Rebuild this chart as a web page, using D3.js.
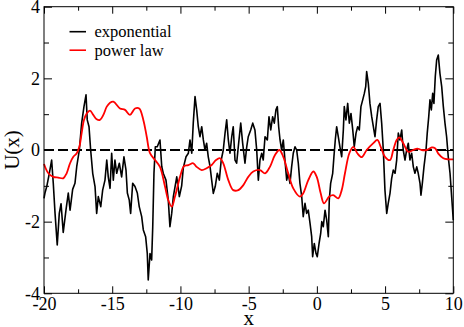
<!DOCTYPE html>
<html>
<head>
<meta charset="utf-8">
<script src="https://cdn.jsdelivr.net/npm/d3@7"></script>
<style>
  body { margin: 0; background: #fff; }
  svg text { font-family: "Liberation Serif", "Times New Roman", Times, "DejaVu Serif", serif; fill: #000; }
</style>
</head>
<body>
<svg id="chart"></svg>
<script>
var width = 464,
    height = 327;
var margin = {top: 6.7, right: 10.7, bottom: 33.7, left: 44};
var serif = "'Liberation Serif', 'Times New Roman', Times, 'DejaVu Serif', serif";

// exponential correlated potential (black)
var expX = [-20, -19.93, -19.80, -19.61, -19.44, -19.32, -19.19, -19.03, -18.88, -18.75, -18.59, -18.39, -18.22, -18.09, -17.90, -17.73, -17.60, -17.41, -17.24, -17.07, -16.92, -16.83, -16.70, -16.58, -16.43, -16.26, -16.14, -16.02, -15.84, -15.70, -15.53, -15.40, -15.29, -15.16, -15.04, -14.92, -14.80, -14.67, -14.48, -14.31, -14.14, -13.99, -13.89, -13.75, -13.65, -13.50, -13.33, -13.16, -13.02, -12.84, -12.72, -12.55, -12.43, -12.36, -12.23, -12.11, -12.03, -11.94, -11.84, -11.70, -11.50, -11.37, -11.26, -11.06, -10.89, -10.77, -10.64, -10.52, -10.27, -10.08, -9.91, -9.79, -9.59, -9.42, -9.30, -9.17, -9.06, -8.93, -8.81, -8.69, -8.57, -8.44, -8.32, -8.20, -8.08, -7.96, -7.83, -7.71, -7.59, -7.45, -7.30, -7.15, -7.01, -6.86, -6.73, -6.61, -6.49, -6.37, -6.24, -6.13, -6.00, -5.88, -5.76, -5.58, -5.44, -5.27, -5.14, -5.03, -4.85, -4.70, -4.54, -4.41, -4.29, -4.17, -4.04, -3.93, -3.80, -3.63, -3.51, -3.38, -3.24, -3.12, -3.00, -2.90, -2.80, -2.70, -2.58, -2.46, -2.34, -2.21, -2.10, -1.97, -1.85, -1.73, -1.60, -1.48, -1.36, -1.24, -1.11, -1.00, -0.87, -0.75, -0.63, -0.50, -0.38, -0.31, -0.19, -0.06, 0.03, 0.16, 0.28, 0.36, 0.47, 0.60, 0.72, 0.84, 0.91, 1.01, 1.16, 1.25, 1.35, 1.45, 1.57, 1.69, 1.82, 1.94, 2.01, 2.13, 2.26, 2.38, 2.50, 2.63, 2.74, 2.87, 2.99, 3.11, 3.23, 3.36, 3.48, 3.58, 3.65, 3.77, 3.89, 4.02, 4.14, 4.26, 4.38, 4.50, 4.63, 4.75, 4.87, 4.99, 5.12, 5.23, 5.36, 5.48, 5.60, 5.73, 5.85, 5.97, 6.09, 6.22, 6.33, 6.46, 6.58, 6.70, 6.82, 6.95, 7.07, 7.19, 7.32, 7.43, 7.56, 7.63, 7.73, 7.85, 8.00, 8.09, 8.20, 8.29, 8.39, 8.49, 8.58, 8.68, 8.78, 8.90, 9.02, 9.15, 9.27, 9.39, 9.51, 9.63, 9.76, 9.88, 10.0];
var expU = [-1.35, -1.20, -1.02, -0.65, -0.28, -0.93, -1.77, -2.65, -1.77, -1.50, -2.30, -1.68, -1.20, -1.68, -1.10, -0.93, -0.46, 0, 0.75, 1.21, 1.54, 0.84, 0.65, 0, -0.65, -1.02, -1.77, -1.30, -1.58, -1.12, -0.84, -0.28, -0.75, -1.07, -0.09, -0.84, -0.28, -0.65, -0.37, -0.75, -0.19, -0.56, -1.20, -1.40, -1.77, -0.93, -1.02, -1.20, -1.58, -1.86, -2.23, -2.42, -2.89, -3.63, -2.89, -3.07, -2.14, -0.65, 0.09, 0.09, 0.28, -0.46, -0.65, -0.84, -1.40, -2.14, -1.77, -1.30, -0.75, -1.30, -1.00, -0.50, -0.19, -0.09, 0.28, -0.09, 0.75, 1.49, 1.12, 0.65, 0.37, 0.65, 0.28, 0, 0.19, -0.19, -0.46, -0.84, -1.21, -1.02, -0.65, -0.84, -0.28, 0, 0.47, 0.84, 0.28, -0.09, 0.37, 0.65, -0.28, -0.37, 0.09, 0.75, 0.19, -0.37, 0.09, 0.37, 0.56, 0.75, 0.56, 0, -0.84, -0.28, -0.09, -0.28, 0.37, 0.28, 0.93, 0.56, 0.93, 0.75, 1.12, 1.21, 0.65, 0.28, 0, 0.28, -0.28, -0.84, -0.65, -0.93, -0.47, -0.09, 0.09, 0, -0.37, -0.93, -1.30, -1.86, -1.49, -1.77, -1.68, -2.05, -2.42, -2.98, -2.61, -2.89, -2.98, -2.61, -2.33, -2.00, -2.14, -1.68, -1.96, -2.42, -1.40, -0.93, -0.65, -0.19, 0.28, 0.65, 0.37, 0.09, -0.19, 0.56, 1.21, 0.84, 1.30, 0.75, 1.02, 0.56, 0.09, 0.47, 0.65, 0.56, 1.21, 1.40, 1.58, 1.77, 2.19, 1.86, 1.30, 0.93, 0.65, 0.37, 0.84, 1.21, 1.30, 0.75, 0, -1.12, -1.77, -1.49, -1.21, -0.80, -0.56, -0.65, -0.28, 0.47, 0.28, 0.56, 0, -0.28, 0, 0.19, -0.28, -0.09, -0.47, -0.65, -0.47, -0.65, -0.93, -1.26, -0.93, -0.47, 0, 0.47, 0.93, 1.40, 1.12, 1.58, 1.30, 2.05, 2.51, 2.65, 2.14, 1.77, 1.21, 0.75, 0.37, -0.19, -0.65, -1.30, -1.96];

// power law correlated potential (red)
var powX = [-20.00, -19.68, -19.32, -18.95, -18.59, -18.34, -18.09, -17.85, -17.60, -17.41, -17.24, -17.07, -16.87, -16.63, -16.39, -16.14, -15.90, -15.65, -15.40, -15.16, -14.92, -14.43, -14.06, -13.70, -13.33, -13.02, -12.72, -12.47, -12.23, -11.86, -11.50, -11.13, -10.89, -10.64, -10.40, -10.03, -9.74, -9.42, -9.06, -8.81, -8.44, -8.08, -7.71, -7.39, -7.10, -6.86, -6.49, -6.13, -5.76, -5.39, -5.03, -4.66, -4.17, -3.80, -3.44, -3.07, -2.75, -2.46, -2.10, -1.73, -1.24, -1.00, -0.63, -0.26, -0.01, 0.28, 0.52, 0.91, 1.20, 1.57, 1.82, 2.06, 2.38, 2.67, 2.96, 3.29, 3.65, 4.14, 4.43, 4.68, 4.99, 5.36, 5.60, 5.85, 6.04, 6.33, 6.70, 7.07, 7.36, 7.68, 8.05, 8.42, 8.66, 8.90, 9.27, 9.63, 10.0];
var powU = [-0.39, -0.65, -0.75, -0.77, -0.79, -0.65, -0.37, -0.19, -0.09, 0.09, 0.47, 0.84, 1.02, 1.10, 0.98, 0.86, 0.84, 0.98, 1.21, 1.32, 1.35, 1.16, 1.12, 0.98, 1.16, 1.16, 0.84, 0.37, -0.09, -0.28, -0.47, -1.02, -1.40, -1.58, -1.30, -0.75, -0.45, -0.42, -0.37, -0.47, -0.56, -0.51, -0.42, -0.28, -0.23, -0.37, -0.84, -1.12, -1.12, -0.98, -0.75, -0.60, -0.56, -0.65, -0.47, -0.14, 0, -0.19, -0.65, -1.07, -1.30, -1.21, -0.84, -0.60, -0.75, -1.21, -1.49, -1.30, -1.26, -1.35, -1.12, -0.65, -0.09, 0.09, -0.09, -0.20, 0, 0.19, 0.28, 0.09, -0.19, -0.28, 0, 0.28, 0.35, 0.19, -0.05, 0, 0.04, 0, 0, 0.07, 0.05, -0.10, -0.23, -0.26, -0.26];

var xMajor = [-20, -15, -10, -5, 0, 5, 10],
    xMinor = [-17.5, -12.5, -7.5, -2.5, 2.5, 7.5],
    yMajor = [-4, -2, 0, 2, 4],
    yMinor = [-3, -1, 1, 3];
var legendLabels = ["exponential", "power law"],
    legendColors = ["#000000", "#ff0000"];

var svg = d3.select("#chart")
    .attr("width", width)
    .attr("height", height);

var x = d3.scaleLinear()
    .domain([-20, 10])
    .range([margin.left, width - margin.right]);
var y = d3.scaleLinear()
    .domain([-4, 4])
    .range([height - margin.bottom, margin.top]);

// zero reference line
svg.append("line")
    .attr("x1", x(-20)).attr("x2", x(10))
    .attr("y1", y(0)).attr("y2", y(0))
    .attr("stroke", "#000")
    .attr("stroke-width", 2)
    .attr("stroke-dasharray", "10,4");

var line = d3.line()
    .x(function (d) { return x(d[0]); })
    .y(function (d) { return y(d[1]); });

svg.append("path")
    .datum(d3.zip(expX, expU))
    .attr("d", line)
    .attr("fill", "none")
    .attr("stroke", "#000")
    .attr("stroke-width", 1.6)
    .attr("stroke-linejoin", "round");

svg.append("path")
    .datum(d3.zip(powX, powU))
    .attr("d", line.curve(d3.curveCatmullRom.alpha(0.5)))
    .attr("fill", "none")
    .attr("stroke", "#ff0000")
    .attr("stroke-width", 1.8);

// axes, ticks pointing inward on all four sides
var plain = function (d) { return String(d); };   // hyphen minus like the original
function styleAxis(g) {
    g.attr("font-family", null);
    g.select(".domain").remove();
    g.selectAll(".tick line").attr("stroke", "#000");
    g.selectAll(".tick text")
        .style("font-size", "18px")
        .style("font-family", serif);
}

svg.append("g")
    .attr("transform", "translate(0," + y(-4) + ")")
    .call(d3.axisBottom(x).tickValues(xMajor).tickSize(-7).tickPadding(4).tickFormat(plain))
    .call(styleAxis);
svg.append("g")
    .attr("transform", "translate(0," + y(-4) + ")")
    .call(d3.axisBottom(x).tickValues(xMinor).tickSize(-4).tickFormat(""))
    .call(styleAxis);
svg.append("g")
    .attr("transform", "translate(0," + y(4) + ")")
    .call(d3.axisTop(x).tickValues(xMajor).tickSize(-7).tickFormat(""))
    .call(styleAxis);
svg.append("g")
    .attr("transform", "translate(0," + y(4) + ")")
    .call(d3.axisTop(x).tickValues(xMinor).tickSize(-4).tickFormat(""))
    .call(styleAxis);

svg.append("g")
    .attr("transform", "translate(" + x(-20) + ",0)")
    .call(d3.axisLeft(y).tickValues(yMajor).tickSize(-8).tickPadding(4).tickFormat(plain))
    .call(styleAxis);
svg.append("g")
    .attr("transform", "translate(" + x(-20) + ",0)")
    .call(d3.axisLeft(y).tickValues(yMinor).tickSize(-5).tickFormat(""))
    .call(styleAxis);
svg.append("g")
    .attr("transform", "translate(" + x(10) + ",0)")
    .call(d3.axisRight(y).tickValues(yMajor).tickSize(-8).tickFormat(""))
    .call(styleAxis);
svg.append("g")
    .attr("transform", "translate(" + x(10) + ",0)")
    .call(d3.axisRight(y).tickValues(yMinor).tickSize(-5).tickFormat(""))
    .call(styleAxis);

// frame
svg.append("rect")
    .attr("x", x(-20)).attr("y", y(4))
    .attr("width", x(10) - x(-20))
    .attr("height", y(-4) - y(4))
    .attr("fill", "none")
    .attr("stroke", "#000")
    .attr("stroke-width", 1);

// axis titles
svg.append("text")
    .attr("x", (x(-20) + x(10)) / 2)
    .attr("y", 325)
    .attr("text-anchor", "middle")
    .style("font-family", serif)
    .style("font-size", "21px")
    .text("x");
svg.append("text")
    .attr("transform", "translate(19," + y(0) + ") rotate(-90)")
    .attr("text-anchor", "middle")
    .style("font-family", serif)
    .style("font-size", "21px")
    .text("U(x)");

// legend
var legend = svg.append("g");
legendLabels.forEach(function (t, i) {
    var ly = 31.7 + i * 18.5;
    legend.append("line")
        .attr("x1", 69.5).attr("x2", 86)
        .attr("y1", ly).attr("y2", ly)
        .attr("stroke", legendColors[i])
        .attr("stroke-width", 1.6);
    legend.append("text")
        .attr("x", 94.5)
        .attr("y", ly)
        .attr("dy", "0.33em")
        .style("font-family", serif)
        .style("font-size", "16.5px")
        .text(t);
});
</script>
</body>
</html>
